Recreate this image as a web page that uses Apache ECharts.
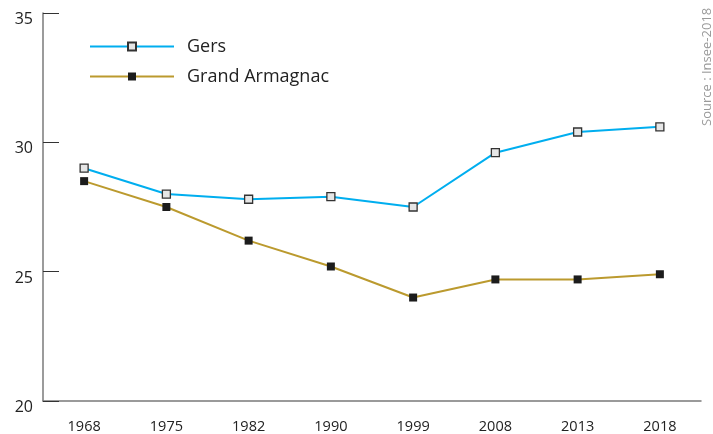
<!DOCTYPE html>
<html>
<head>
<meta charset="utf-8">
<script src="https://cdn.jsdelivr.net/npm/echarts@6/dist/echarts.min.js"></script>
<style>
html,body{margin:0;padding:0;background:#fff;}
#chart{width:713px;height:434px;}
</style>
</head>
<body>
<div id="chart"></div>
<script>
var years = ['1968','1975','1982','1990','1999','2008','2013','2018'];
var gers = [29.0, 28.0, 27.8, 27.9, 27.5, 29.6, 30.4, 30.6];
var grandArmagnac = [28.5, 27.5, 26.2, 25.2, 24.0, 24.7, 24.7, 24.9];
var yTicks = [20, 25, 30, 35];
var sourceText = 'Source : Insee-2018';

var FONT = 'Open Sans';
var chart = echarts.init(document.getElementById('chart'), null, {renderer: 'canvas'});
chart.setOption({
  animation: false,
  backgroundColor: '#fff',
  textStyle: {fontFamily: FONT},
  grid: {left: 43, right: 12, top: 13, bottom: 30, containLabel: false},
  legend: {
    orient: 'vertical',
    left: 89,
    top: 36,
    padding: 0,
    itemWidth: 84,
    itemHeight: 10,
    itemGap: 9,
    textStyle: {fontFamily: FONT, fontSize: 18, color: '#222', padding: [0, 0, 0, 8], lineHeight: 21},
    data: ['Gers', 'Grand Armagnac']
  },
  xAxis: {
    type: 'category',
    data: years,
    boundaryGap: true,
    axisLine: {lineStyle: {color: '#7a7a7a', width: 1.5}},
    axisTick: {inside: true, length: 10, lineStyle: {color: '#333', width: 1}},
    axisLabel: {color: '#222', fontSize: 14.5, fontFamily: FONT, margin: 18},
    splitLine: {show: false}
  },
  yAxis: {
    type: 'value',
    min: yTicks[0],
    max: yTicks[yTicks.length - 1],
    interval: 5,
    axisLine: {show: true, lineStyle: {color: '#7a7a7a', width: 1.5}},
    axisTick: {show: true, inside: true, length: 16, lineStyle: {color: '#333', width: 1}},
    axisLabel: {color: '#222', fontSize: 16, fontFamily: FONT, margin: 10, verticalAlign: 'top', lineHeight: 13},
    splitLine: {show: false}
  },
  graphic: [{
    type: 'text',
    x: 707,
    y: 126,
    rotation: Math.PI / 2,
    style: {text: sourceText, fontFamily: FONT, fontSize: 13, fill: '#9a9a9a', align: 'left', verticalAlign: 'middle'}
  }],
  series: [
    {
      name: 'Gers',
      type: 'line',
      data: gers,
      symbol: 'rect',
      symbolSize: 8,
      lineStyle: {color: '#00aeef', width: 2},
      itemStyle: {color: '#e6e6e6', borderColor: '#333', borderWidth: 1.3},
      z: 3
    },
    {
      name: 'Grand Armagnac',
      type: 'line',
      data: grandArmagnac,
      symbol: 'rect',
      symbolSize: 8,
      lineStyle: {color: '#bb9a2e', width: 2},
      itemStyle: {color: '#1c1c1c', borderColor: '#1c1c1c', borderWidth: 0},
      z: 2
    }
  ]
});
</script>
</body>
</html>
